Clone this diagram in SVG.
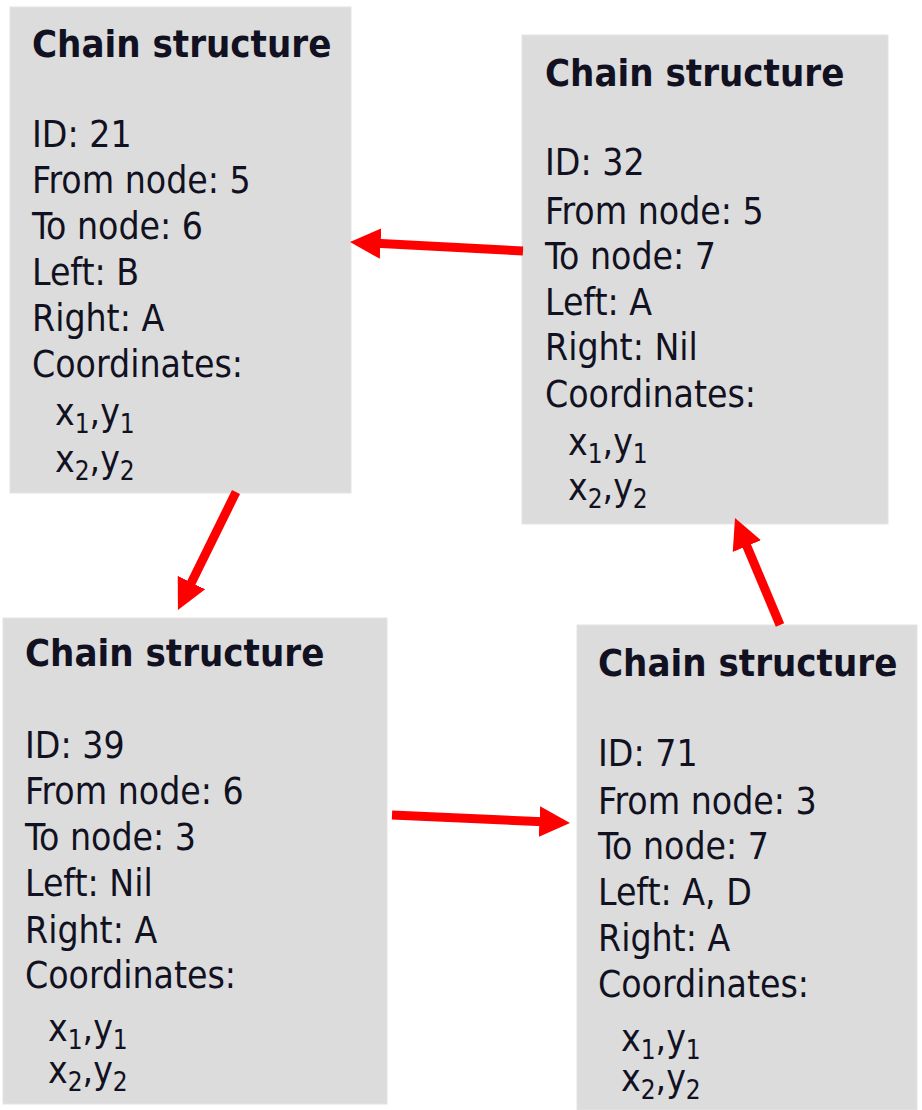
<svg xmlns="http://www.w3.org/2000/svg" width="922" height="1110" viewBox="0 0 922 1110">
<style>
.box{fill:#dcdcdc;stroke:#e4e4e4;stroke-width:1}
text{font-family:"DejaVu Sans Condensed","DejaVu Sans",sans-serif;font-stretch:condensed;fill:#111122}
.t{font-size:38px;font-weight:bold}
.b{font-size:37px}
.s{font-size:26px}
.arr{stroke:#ff0000;stroke-width:9;fill:none;marker-end:url(#ah)}
</style>
<defs>
<marker id="ah" viewBox="0 0 10 10" refX="3" refY="5" markerWidth="3.4" markerHeight="3.7" orient="auto" markerUnits="strokeWidth">
<path d="M0,0 L10,5 L0,10 z" fill="#ff0000"/>
</marker>
</defs>
<rect width="922" height="1110" fill="#ffffff"/>
<g id="node21" transform="translate(10,7)">
<rect class="box" x="0" y="0" width="341" height="486"/>
<text class="t" x="22" y="50">Chain structure</text>
<text class="b" x="22" y="140">ID: 21</text>
<text class="b" x="22" y="186">From node: 5</text>
<text class="b" x="22" y="232">To node: 6</text>
<text class="b" x="22" y="278">Left: B</text>
<text class="b" x="22" y="324">Right: A</text>
<text class="b" x="22" y="370">Coordinates:</text>
<text class="b" x="45" y="418">x<tspan class="s" dy="8">1</tspan><tspan dy="-8">,y</tspan><tspan class="s" dy="8">1</tspan></text>
<text class="b" x="45" y="465">x<tspan class="s" dy="8">2</tspan><tspan dy="-8">,y</tspan><tspan class="s" dy="8">2</tspan></text>
</g>
<g id="node32" transform="translate(522,35)">
<rect class="box" x="0" y="0" width="366" height="489"/>
<text class="t" x="23" y="51">Chain structure</text>
<text class="b" x="23" y="140">ID: 32</text>
<text class="b" x="23" y="189">From node: 5</text>
<text class="b" x="23" y="234">To node: 7</text>
<text class="b" x="23" y="280">Left: A</text>
<text class="b" x="23" y="325">Right: Nil</text>
<text class="b" x="23" y="372">Coordinates:</text>
<text class="b" x="46" y="420">x<tspan class="s" dy="8">1</tspan><tspan dy="-8">,y</tspan><tspan class="s" dy="8">1</tspan></text>
<text class="b" x="46" y="465">x<tspan class="s" dy="8">2</tspan><tspan dy="-8">,y</tspan><tspan class="s" dy="8">2</tspan></text>
</g>
<g id="node39" transform="translate(3,618)">
<rect class="box" x="0" y="0" width="384" height="486"/>
<text class="t" x="22" y="48">Chain structure</text>
<text class="b" x="22" y="140">ID: 39</text>
<text class="b" x="22" y="186">From node: 6</text>
<text class="b" x="22" y="232">To node: 3</text>
<text class="b" x="22" y="278">Left: Nil</text>
<text class="b" x="22" y="325">Right: A</text>
<text class="b" x="22" y="370">Coordinates:</text>
<text class="b" x="45" y="423">x<tspan class="s" dy="8">1</tspan><tspan dy="-8">,y</tspan><tspan class="s" dy="8">1</tspan></text>
<text class="b" x="45" y="465">x<tspan class="s" dy="8">2</tspan><tspan dy="-8">,y</tspan><tspan class="s" dy="8">2</tspan></text>
</g>
<g id="node71" transform="translate(577,625)">
<rect class="box" x="0" y="0" width="340" height="485"/>
<text class="t" x="21" y="51">Chain structure</text>
<text class="b" x="21" y="141">ID: 71</text>
<text class="b" x="21" y="189">From node: 3</text>
<text class="b" x="21" y="234">To node: 7</text>
<text class="b" x="21" y="280">Left: A, D</text>
<text class="b" x="21" y="326">Right: A</text>
<text class="b" x="21" y="372">Coordinates:</text>
<text class="b" x="44" y="426">x<tspan class="s" dy="8">1</tspan><tspan dy="-8">,y</tspan><tspan class="s" dy="8">1</tspan></text>
<text class="b" x="44" y="466">x<tspan class="s" dy="8">2</tspan><tspan dy="-8">,y</tspan><tspan class="s" dy="8">2</tspan></text>
</g>
<g id="connectors">
<line class="arr" x1="523" y1="251" x2="371.4" y2="243.1"/>
<line class="arr" x1="236" y1="492" x2="187.4" y2="590.8"/>
<line class="arr" x1="392" y1="815" x2="548.6" y2="822"/>
<line class="arr" x1="780" y1="625" x2="743.3" y2="537.7"/>
</g>
</svg>
